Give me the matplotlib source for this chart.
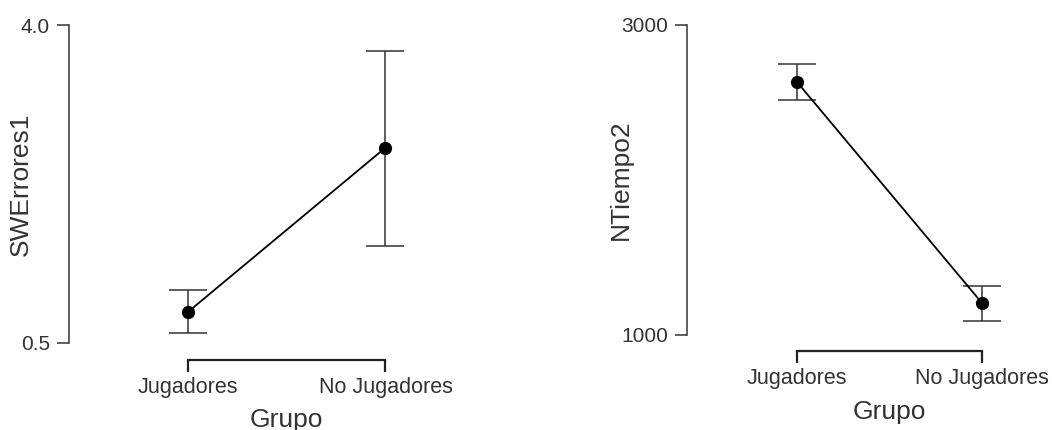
import matplotlib
matplotlib.use('Agg')
import matplotlib.pyplot as plt

plt.rcParams['font.family'] = ['Liberation Sans', 'DejaVu Sans']

# data
grupos = ['Jugadores', 'No Jugadores']

swerrores_media = [0.84, 2.65]
swerrores_low = [0.61, 1.57]
swerrores_high = [1.08, 3.71]

ntiempo_media = [2632, 1206]
ntiempo_low = [2516, 1090]
ntiempo_high = [2748, 1316]

W, H = 1052, 430
fig = plt.figure(figsize=(W / 100, H / 100), dpi=100)

txt = '#333333'
line = '#222222'


def panel(rect, media, low, high, ylim, yticks, ytlabels, ylabel, xlim,
          ylab_x, xlab_y, bottom_out):
    ax = fig.add_axes(rect)
    x = list(range(len(grupos)))
    err = [[m - l for m, l in zip(media, low)], [h - m for m, h in zip(media, high)]]
    ax.errorbar(x, media, yerr=err, fmt='none', ecolor='#333333', elinewidth=1.1,
                capsize=13.7, capthick=1.1, zorder=2)
    ax.plot(x, media, color='black', lw=1.3, marker='o', ms=8.5, zorder=3)
    ax.set_xlim(*xlim)
    ax.set_ylim(*ylim)
    for s in ['top', 'right']:
        ax.spines[s].set_visible(False)
    ax.spines['left'].set_bounds(ylim[0], ylim[1])
    ax.spines['left'].set_color(txt)
    ax.spines['left'].set_linewidth(1.1)
    ax.spines['bottom'].set_bounds(0, len(grupos) - 1)
    ax.spines['bottom'].set_position(('outward', bottom_out))
    ax.spines['bottom'].set_linewidth(1.6)
    ax.spines['bottom'].set_color(line)
    ax.set_yticks(yticks)
    ax.set_yticklabels(ytlabels)
    ax.set_xticks(x)
    ax.set_xticklabels(grupos)
    ax.tick_params(axis='y', length=8.6, width=1.1, color=txt, labelsize=15,
                   labelcolor=txt, pad=5)
    ax.tick_params(axis='x', length=8.6, width=1.6, color=line, labelsize=15.5,
                   labelcolor=txt, pad=4)
    ax.set_ylabel(ylabel, fontsize=19, color=txt)
    ax.yaxis.set_label_coords(ylab_x, 0.5)
    ax.set_xlabel('Grupo', fontsize=19, color=txt)
    ax.xaxis.set_label_coords((0.5 * (len(grupos) - 1) - xlim[0]) / (xlim[1] - xlim[0]), xlab_y)
    return ax


# left panel
l0, l1 = 69, 425
panel([l0 / W, 1 - 343 / H, (l1 - l0) / W, (343 - 25) / H],
      swerrores_media, swerrores_low, swerrores_high,
      (0.5, 4.0), [0.5, 4.0], ['0.5', '4.0'], 'SWErrores1',
      (-0.601, 1.2), (33 - l0) / (l1 - l0), -65 / 318, 12.2)

# right panel
r0, r1 = 687, 1019
panel([r0 / W, 1 - 335 / H, (r1 - r0) / W, (335 - 25) / H],
      ntiempo_media, ntiempo_low, ntiempo_high,
      (1000, 3000), [1000, 3000], ['1000', '3000'], 'NTiempo2',
      (-0.595, 1.2), (633 - r0) / (r1 - r0), -65 / 310, 11.5)

fig.savefig('out.png', dpi=100)
